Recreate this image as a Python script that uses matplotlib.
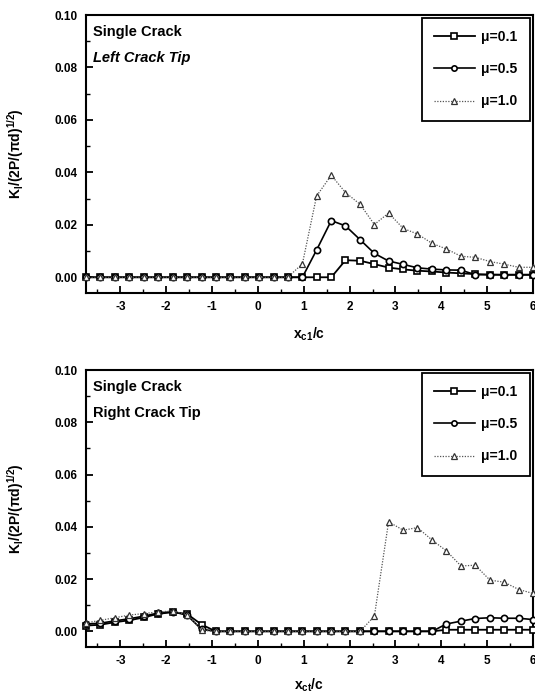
import matplotlib
matplotlib.use("Agg")
import matplotlib.pyplot as plt
from matplotlib.ticker import MultipleLocator, FormatStrFormatter

plt.rcParams['font.family'] = ['Liberation Sans', 'DejaVu Sans']
plt.rcParams['font.weight'] = 'bold'
plt.rcParams['axes.unicode_minus'] = False
plt.rcParams['mathtext.fontset'] = 'custom'
plt.rcParams['mathtext.rm'] = 'Liberation Sans:bold'
plt.rcParams['mathtext.it'] = 'Liberation Sans:bold'
plt.rcParams['mathtext.bf'] = 'Liberation Sans:bold'
plt.rcParams['mathtext.default'] = 'rm'

# Crack position x/c
x = [-3.75, -3.44, -3.12, -2.81, -2.49, -2.18, -1.86, -1.55, -1.23, -0.92,
     -0.60, -0.29, 0.02, 0.34, 0.65, 0.97, 1.28, 1.60, 1.91, 2.23,
     2.54, 2.85, 3.17, 3.48, 3.80, 4.11, 4.43, 4.74, 5.06, 5.37,
     5.69, 6.00]

labels = ["\u03bc=0.1", "\u03bc=0.5", "\u03bc=1.0"]

# Left crack tip
left_mu01 = [0, 0, 0, 0, 0, 0, 0, 0, 0, 0,
             0, 0, 0, 0, 0, 0, 0, 0, 0.0065, 0.0063,
             0.0050, 0.0037, 0.0030, 0.0025, 0.0022, 0.0018, 0.0015, 0.0012, 0.0010, 0.0010,
             0.0010, 0.0010]
left_mu05 = [0, 0, 0, 0, 0, 0, 0, 0, 0, 0,
             0, 0, 0, 0, 0, 0, 0.0104, 0.0216, 0.0196, 0.0143,
             0.0091, 0.0062, 0.0049, 0.0036, 0.0031, 0.0028, 0.0027, 0.0010, 0.0010, 0.0009,
             0.0009, 0.0009]
left_mu10 = [0, 0, 0, 0, 0, 0, 0, 0, 0, 0,
             0, 0, 0, 0, 0, 0.0051, 0.0310, 0.0389, 0.0323, 0.0278,
             0.0201, 0.0245, 0.0186, 0.0165, 0.0129, 0.0108, 0.0080, 0.0076, 0.0060, 0.0050,
             0.0038, 0.0038]

# Right crack tip
right_mu01 = [0.0022, 0.0025, 0.0035, 0.0042, 0.0053, 0.0067, 0.0073, 0.0067, 0.0026, 0,
              0, 0, 0, 0, 0, 0, 0, 0, 0, 0,
              0, 0, 0, 0, 0, 0.0006, 0.0006, 0.0006, 0.0006, 0.0006,
              0.0006, 0.0006]
right_mu05 = [0.0028, 0.0031, 0.0040, 0.0048, 0.0058, 0.0070, 0.0075, 0.0062, 0.0008, 0,
              0, 0, 0, 0, 0, 0, 0, 0, 0, 0,
              0, 0, 0, 0, 0, 0.0028, 0.0039, 0.0049, 0.0052, 0.0050,
              0.0050, 0.0045]
right_mu10 = [0.0032, 0.0042, 0.0052, 0.0062, 0.0068, 0.0074, 0.0078, 0.0064, 0.0004, 0,
              0, 0, 0, 0, 0, 0, 0, 0, 0, 0,
              0.0058, 0.0419, 0.0387, 0.0397, 0.0349, 0.0308, 0.0250, 0.0253, 0.0196, 0.0188,
              0.0160, 0.0145]

fig = plt.figure(figsize=(5.35, 6.95), dpi=100)
ax1 = fig.add_axes([86/535, 1-293/695, 447/535, 278/695])
ax2 = fig.add_axes([86/535, 1-647/695, 447/535, 277/695])

panels = [
    (ax1, left_mu01, left_mu05, left_mu10, "Left Crack Tip", "italic", r"x$_{c1}$/c", -0.118),
    (ax2, right_mu01, right_mu05, right_mu10, "Right Crack Tip", "normal", r"x$_{ct}$/c", -0.106),
]

ylab = "K$_I$/(2P/(\u03c0d)$^{1/2}$)"

for ax, s1, s2, s3, tip, tipstyle, xl, xly in panels:
    ax.plot(x, s1, color='black', lw=1.3, marker='s', ms=4.3, mfc='white',
            mec='black', mew=1.2, label=labels[0], clip_on=False, zorder=3)
    ax.plot(x, s2, color='black', lw=1.2, marker='o', ms=4.5, mfc='white',
            mec='black', mew=1.2, label=labels[1], clip_on=False, zorder=4)
    ax.plot(x, s3, color='#555555', lw=0.9, ls=(0, (1, 1.2)), marker='^', ms=4.5,
            mfc='white', mec='#333333', mew=0.9, label=labels[2], clip_on=False, zorder=5)

    ax.set_xlim(-3.75, 6.0)
    ax.set_ylim(-0.006, 0.10)
    ax.xaxis.set_major_locator(MultipleLocator(1))
    ax.xaxis.set_minor_locator(MultipleLocator(0.5))
    ax.yaxis.set_major_locator(MultipleLocator(0.02))
    ax.yaxis.set_minor_locator(MultipleLocator(0.01))
    ax.yaxis.set_major_formatter(FormatStrFormatter('%.2f'))
    ax.tick_params(which='both', direction='in', top=False, right=False,
                   labelsize=8.5)
    ax.tick_params(which='major', length=5, width=1.3)
    ax.tick_params(which='minor', length=3, width=1.0)
    ax.tick_params(axis='x', which='major', pad=6)
    ax.tick_params(axis='y', which='major', pad=6)
    for lab in ax.get_xticklabels() + ax.get_yticklabels():
        lab.set_fontweight('bold')
    for sp in ax.spines.values():
        sp.set_linewidth(1.5)

    ax.text(0.016, 0.939, "Single Crack", transform=ax.transAxes, fontsize=10.5,
            fontweight='bold', va='center', ha='left')
    ax.text(0.016, 0.846, tip, transform=ax.transAxes, fontsize=10.5,
            fontweight='bold', style=tipstyle, va='center', ha='left')

    ax.set_ylabel(ylab, fontsize=10, fontweight='bold')
    ax.yaxis.set_label_coords(-0.134, 0.5)
    ax.set_xlabel(xl, fontsize=10, fontweight='bold')
    ax.xaxis.set_label_coords(0.5, xly)

    leg = ax.legend(loc='upper right', fontsize=10, frameon=True, fancybox=False,
                    edgecolor='black', framealpha=1, handlelength=2.9,
                    labelspacing=1.3, borderaxespad=0.2, markerscale=0.85,
                    borderpad=0.9, handletextpad=0.5)
    leg.get_frame().set_linewidth(1.3)
    for t in leg.get_texts():
        t.set_fontweight('bold')

fig.savefig("out.png", dpi=100)
